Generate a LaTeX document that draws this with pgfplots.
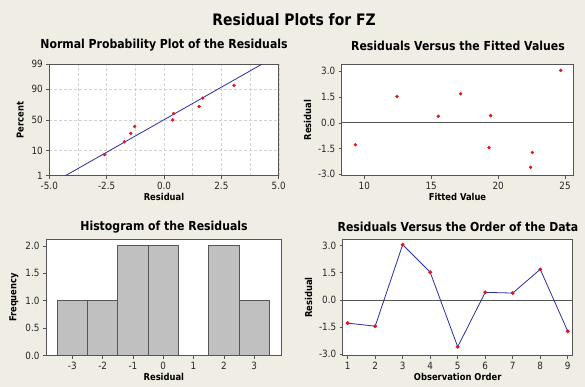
\documentclass[border=0pt]{standalone}
\usepackage{pgfplots}
\pgfplotsset{compat=1.18}
\usepackage{fontspec}
\setmainfont{DejaVu Sans}[FakeStretch=0.88]
\definecolor{bg}{RGB}{240,237,229}
\definecolor{frm}{RGB}{85,85,85}
\definecolor{pt}{RGB}{222,22,32}
\definecolor{ln}{RGB}{45,45,165}
\definecolor{barc}{RGB}{192,192,192}
\pgfplotsset{
  every axis/.append style={
    scale only axis, anchor=south west,
    /pgf/number format/assume math mode=true,
    axis background/.style={fill=white},
    axis line style={frm, line width=0.8pt},
    tick style={frm, line width=0.6pt},
    tick align=outside, xtick pos=bottom, ytick pos=left,
    major tick length=3pt, minor tick length=0pt,
    tick label style={font=\fontsize{10}{12}\selectfont, text=black!85},
    every axis x label/.style={at={(axis description cs:0.5,0)}, anchor=center, yshift=-21pt, font=\bfseries\fontsize{9.5}{11}\selectfont},
    ylabshift/.initial=-32pt,
    every axis y label/.style={at={([xshift=\pgfkeysvalueof{/pgfplots/ylabshift}]axis description cs:0,0.5)}, anchor=center, rotate=90, font=\bfseries\fontsize{9.5}{11}\selectfont},
  },
}
\begin{document}
\begin{tikzpicture}[x=1pt,y=1pt]
\fill[bg] (0,0) rectangle (585,387);
\node[font=\bfseries\fontsize{15.8}{18}\selectfont] at (294,367) {Residual Plots for FZ};
\node[font=\bfseries\fontsize{12.4}{14}\selectfont] at (164,341.5) {Normal Probability Plot of the Residuals};
\node[font=\bfseries\fontsize{12.4}{14}\selectfont] at (458,341) {Residuals Versus the Fitted Values};
\node[font=\bfseries\fontsize{12.4}{14}\selectfont] at (164,160) {Histogram of the Residuals};
\node[font=\bfseries\fontsize{12.4}{14}\selectfont] at (458,160) {Residuals Versus the Order of the Data};

% Normal probability plot
\begin{axis}[at={(49.3pt,211.3pt)}, width=229.4pt, height=111.4pt,
  ylabshift=-29pt,
  xmin=-5, xmax=5, ymin=-2.3263, ymax=2.3263,
  xtick={-5,-2.5,0,2.5,5}, xticklabels={-5.0,-2.5,0.0,2.5,5.0},
  minor x tick num=1,
  ytick={-2.3263,-1.2816,0,1.2816,2.3263}, yticklabels={1,10,50,90,99},
  xmajorgrids, xminorgrids, ymajorgrids,
  major grid style={densely dashed, gray!35},
  minor grid style={densely dashed, gray!35},
  xlabel={Residual}, ylabel={Percent}]
\addplot[ln, line width=0.8pt] coordinates {(-4.30,-2.3263) (4.26,2.3263)};
\addplot[only marks, mark=*, mark size=1.5pt, pt] coordinates {
(-2.59,-1.446) (-1.73,-0.912) (-1.45,-0.562) (-1.28,-0.269) (0.38,0) (0.42,0.269) (1.53,0.562) (1.69,0.912) (3.05,1.446)};
\end{axis}

% Residuals vs fitted
\begin{axis}[at={(341.7pt,211.3pt)}, width=231.6pt, height=111.4pt,
  ylabshift=-34pt,
  xmin=8.31, xmax=25.62, ymin=-3.08, ymax=3.41,
  xtick={10,15,20,25}, xticklabels={10,15,20,25},
  ytick={-3,-1.5,0,1.5,3}, yticklabels={-3.0,-1.5,0.0,1.5,3.0},
  xlabel={Fitted Value}, ylabel={Residual}]
\addplot[frm, line width=0.8pt] coordinates {(8.31,0) (25.62,0)};
\addplot[only marks, mark=*, mark size=1.5pt, pt] coordinates {
(9.33,-1.28) (12.44,1.53) (15.53,0.38) (17.20,1.69) (19.44,0.42) (19.32,-1.45) (22.56,-1.73) (22.43,-2.59) (24.68,3.05)};
\end{axis}

% Histogram
\begin{axis}[at={(46pt,31.3pt)}, width=235.7pt, height=116.4pt,
  ylabshift=-32pt,
  xmin=-3.87, xmax=3.91, ymin=0, ymax=2.12,
  xtick={-3,-2,-1,0,1,2,3}, xticklabels={-3,-2,-1,0,1,2,3},
  ytick={0,0.5,1,1.5,2}, yticklabels={0.0,0.5,1.0,1.5,2.0},
  xlabel={Residual}, ylabel={Frequency}]
\addplot[ybar, bar width=1, fill=barc, draw=frm, line width=0.8pt] coordinates {
(-3,1) (-2,1) (-1,2) (0,2) (2,2) (3,1)};
\end{axis}

% Residuals vs order
\begin{axis}[at={(342.7pt,31.3pt)}, width=230pt, height=116.4pt,
  ylabshift=-34pt,
  xmin=0.82, xmax=9.18, ymin=-3.08, ymax=3.35,
  xtick={1,2,3,4,5,6,7,8,9}, xticklabels={1,2,3,4,5,6,7,8,9},
  ytick={-3,-1.5,0,1.5,3}, yticklabels={-3.0,-1.5,0.0,1.5,3.0},
  xlabel={Observation Order}, ylabel={Residual}]
\addplot[frm, line width=0.8pt] coordinates {(0.82,0) (9.18,0)};
\addplot[ln, line width=0.8pt, mark=*, mark size=1.5pt, mark options={pt, fill=pt, draw=pt}] coordinates {
(1,-1.28) (2,-1.45) (3,3.05) (4,1.53) (5,-2.59) (6,0.42) (7,0.38) (8,1.69) (9,-1.73)};
\end{axis}
\pgfresetboundingbox
\useasboundingbox (0,0) rectangle (585,387);
\end{tikzpicture}
\end{document}
